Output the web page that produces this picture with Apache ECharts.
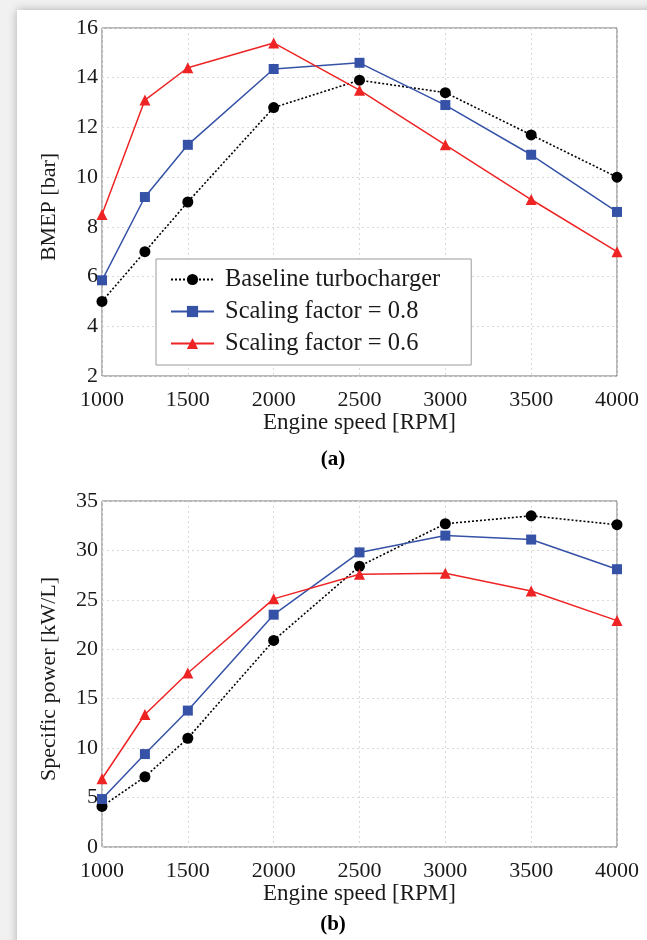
<!DOCTYPE html>
<html>
<head>
<meta charset="utf-8">
<script src="https://cdn.jsdelivr.net/npm/echarts@6/dist/echarts.min.js"></script>
<style>
html,body{margin:0;padding:0;width:647px;height:940px;background:#f1f1f1;overflow:hidden;}
#card{position:absolute;left:17px;top:10px;width:660px;height:960px;background:#fff;box-shadow:0 0 9px rgba(0,0,0,0.28);}
#chart{position:absolute;left:0;top:0;width:647px;height:940px;}
</style>
</head>
<body>
<div id="card"></div>
<div id="chart"></div>
<script>
// ---- data ----
const speeds = [1000, 1250, 1500, 2000, 2500, 3000, 3500, 4000];
const seriesNames = ['Baseline turbocharger', 'Scaling factor = 0.8', 'Scaling factor = 0.6'];
// (a) BMEP [bar]
const bmepBaseline = [5.0, 7.0, 9.0, 12.8, 13.9, 13.4, 11.7, 10.0];
const bmepSf08     = [5.85, 9.2, 11.3, 14.35, 14.6, 12.9, 10.9, 8.6];
const bmepSf06     = [8.5, 13.1, 14.4, 15.4, 13.5, 11.3, 9.1, 7.0];
// (b) Specific power [kW/L]
const powBaseline = [4.1, 7.1, 11.0, 20.9, 28.4, 32.7, 33.5, 32.6];
const powSf08     = [4.85, 9.4, 13.8, 23.5, 29.8, 31.5, 31.1, 28.1];
const powSf06     = [6.9, 13.4, 17.6, 25.1, 27.6, 27.7, 25.9, 22.9];
// axis texts
const xName = 'Engine speed [RPM]';
const yNameA = 'BMEP [bar]';
const yNameB = 'Specific power [kW/L]';
const panelA = '(a)';
const panelB = '(b)';

const FONT = "'Liberation Serif','Times New Roman',serif";
const TXT = '#1a1a1a';
const BLACK = '#000000', BLUE = '#3552a6', RED = '#ee2424';

const pairs = (ys) => speeds.map((x, i) => [x, ys[i]]);

function xAxis(gi) {
  return {
    type: 'value', gridIndex: gi, min: 1000, max: 4000, interval: 500,
    name: xName, nameLocation: 'middle', nameGap: 35,
    nameTextStyle: {fontFamily: FONT, fontSize: 23, color: TXT},
    axisLine: {show: false}, axisTick: {show: false},
    axisLabel: {fontFamily: FONT, fontSize: 22, color: TXT, margin: 13, formatter: (v) => String(v)},
    splitLine: {show: true, lineStyle: {color: '#d9d9d9', type: [2, 3], width: 1}}
  };
}
function yAxis(gi, name, min, max, interval, gap) {
  return {
    type: 'value', gridIndex: gi, min, max, interval,
    name, nameLocation: 'middle', nameGap: gap,
    nameTextStyle: {fontFamily: FONT, fontSize: 22, color: TXT, padding: [0, 10, 0, 0]},
    axisLine: {show: false}, axisTick: {show: false},
    axisLabel: {fontFamily: FONT, fontSize: 22, color: TXT, margin: 4, padding: [4, 0, 0, 0]},
    splitLine: {show: true, lineStyle: {color: '#d9d9d9', type: [2, 3], width: 1}}
  };
}
function mk(name, data, gi, color, symbol, dashed, size) {
  return {
    name, type: 'line', xAxisIndex: gi, yAxisIndex: gi, data: pairs(data),
    symbol, symbolSize: size, showSymbol: true,
    lineStyle: {color, width: dashed ? 1.6 : 1.5, type: dashed ? [2, 2] : 'solid'},
    itemStyle: {color, borderWidth: 0},
    emphasis: {disabled: true}, animation: false, z: dashed ? 2 : 3
  };
}

const chart = echarts.init(document.getElementById('chart'), null, {renderer: 'canvas'});
chart.setOption({
  backgroundColor: 'transparent',
  animation: false,
  grid: [
    {left: 102, right: 30, top: 28, height: 348, show: true, borderColor: '#707070', borderWidth: 1, backgroundColor: 'transparent'},
    {left: 102, right: 30, top: 501, height: 346, show: true, borderColor: '#707070', borderWidth: 1, backgroundColor: 'transparent'}
  ],
  xAxis: [xAxis(0), xAxis(1)],
  yAxis: [yAxis(0, yNameA, 2, 16, 2, 42), yAxis(1, yNameB, 0, 35, 5, 42)],
  legend: {
    data: seriesNames, orient: 'vertical', left: 156, top: 259,
    padding: [8, 31, 9, 14], itemGap: 7, itemWidth: 43, itemHeight: 14,
    backgroundColor: '#ffffff', borderColor: '#9a9a9a', borderWidth: 1, borderRadius: 0,
    textStyle: {fontFamily: FONT, fontSize: 24.5, color: TXT, lineHeight: 23, padding: [0, 0, 0, 6]},
    selectedMode: false
  },
  series: [
    mk(seriesNames[0], bmepBaseline, 0, BLACK, 'circle', true, 11),
    mk(seriesNames[1], bmepSf08, 0, BLUE, 'rect', false, 10),
    mk(seriesNames[2], bmepSf06, 0, RED, 'triangle', false, 11),
    mk(seriesNames[0], powBaseline, 1, BLACK, 'circle', true, 11),
    mk(seriesNames[1], powSf08, 1, BLUE, 'rect', false, 10),
    mk(seriesNames[2], powSf06, 1, RED, 'triangle', false, 11)
  ],
  graphic: [
    {type: 'text', x: 333, y: 460, style: {text: panelA, font: "bold 21px 'Liberation Serif', serif", fill: '#000', textAlign: 'center', textVerticalAlign: 'middle'}},
    {type: 'text', x: 333, y: 925, style: {text: panelB, font: "bold 21px 'Liberation Serif', serif", fill: '#000', textAlign: 'center', textVerticalAlign: 'middle'}}
  ]
});
</script>
</body>
</html>
